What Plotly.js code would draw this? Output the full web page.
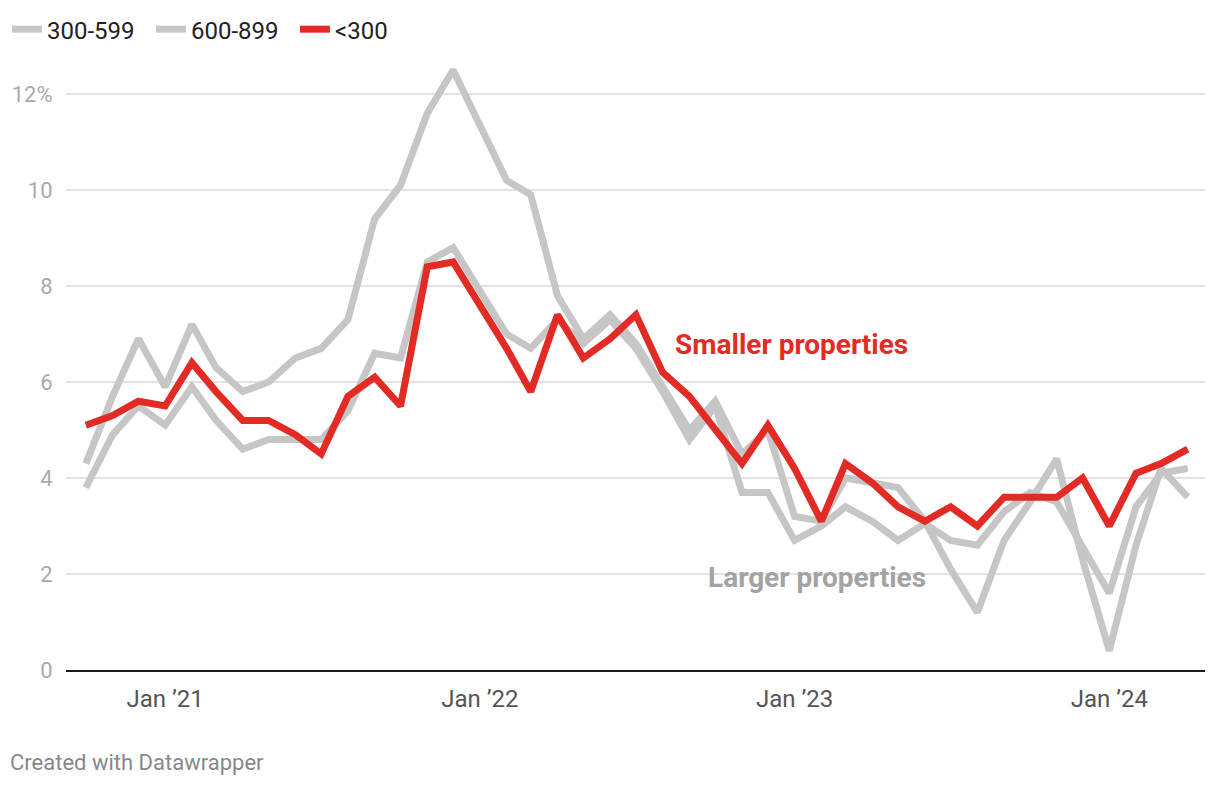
<!DOCTYPE html>
<html>
<head>
<meta charset="utf-8">
<script src="https://cdn.plot.ly/plotly-3.0.1.min.js"></script>
<style>
  html, body { margin: 0; padding: 0; background: #fff; }
  #chart { width: 1220px; height: 786px; }
</style>
</head>
<body>
<div id="chart"></div>
<script>
// Monthly observations, Oct 2020 – Apr 2024
const months = [
  "2020-10-01","2020-11-01","2020-12-01",
  "2021-01-01","2021-02-01","2021-03-01","2021-04-01","2021-05-01","2021-06-01",
  "2021-07-01","2021-08-01","2021-09-01","2021-10-01","2021-11-01","2021-12-01",
  "2022-01-01","2022-02-01","2022-03-01","2022-04-01","2022-05-01","2022-06-01",
  "2022-07-01","2022-08-01","2022-09-01","2022-10-01","2022-11-01","2022-12-01",
  "2023-01-01","2023-02-01","2023-03-01","2023-04-01","2023-05-01","2023-06-01",
  "2023-07-01","2023-08-01","2023-09-01","2023-10-01","2023-11-01","2023-12-01",
  "2024-01-01","2024-02-01","2024-03-01","2024-04-01"
];

const series300to599 = [
  4.3, 5.7, 6.9, 5.9, 7.2, 6.3, 5.8, 6.0, 6.5, 6.7, 7.3, 9.4, 10.1, 11.6, 12.5,
  11.35, 10.2, 9.9, 7.8, 6.9, 7.4, 6.8, 5.9, 5.0, 5.6, 4.5, 5.0, 3.2, 3.1, 4.0,
  3.9, 3.8, 3.1, 2.1, 1.2, 2.7, 3.5, 4.4, 2.3, 0.4, 2.6, 4.2, 3.6
];

const series600to899 = [
  3.8, 4.9, 5.5, 5.1, 5.9, 5.2, 4.6, 4.8, 4.8, 4.8, 5.4, 6.6, 6.5, 8.5, 8.8,
  7.9, 7.0, 6.7, 7.3, 6.8, 7.3, 6.7, 5.8, 4.8, 5.5, 3.7, 3.7, 2.7, 3.0, 3.4,
  3.1, 2.7, 3.05, 2.7, 2.6, 3.3, 3.7, 3.5, 2.6, 1.6, 3.4, 4.1, 4.2
];

const seriesUnder300 = [
  5.1, 5.3, 5.6, 5.5, 6.4, 5.8, 5.2, 5.2, 4.9, 4.5, 5.7, 6.1, 5.5, 8.4, 8.5,
  7.6, 6.7, 5.8, 7.4, 6.5, 6.9, 7.4, 6.2, 5.7, 5.0, 4.3, 5.1, 4.2, 3.1, 4.3,
  3.9, 3.4, 3.1, 3.4, 3.0, 3.6, 3.6, 3.6, 4.0, 3.0, 4.1, 4.3, 4.6
];

const seriesNames = ["300-599", "600-899", "<300"];

const xTickVals = ["2021-01-01", "2022-01-01", "2023-01-01", "2024-01-01"];
const xTickText = ["Jan \u201921", "Jan \u201922", "Jan \u201923", "Jan \u201924"];
const yTickVals = [0, 2, 4, 6, 8, 10, 12];
const yTickText = ["0", "2", "4", "6", "8", "10", "12%"];

const GRAY = "#c6c6c6";
const RED = "#e32b26";
const FONT = "Roboto, 'Noto Sans', sans-serif";

const traces = [
  { x: months, y: series300to599, name: seriesNames[0], type: "scatter", mode: "lines",
    line: { color: GRAY, width: 7, shape: "linear" }, hoverinfo: "skip" },
  { x: months, y: series600to899, name: seriesNames[1], type: "scatter", mode: "lines",
    line: { color: GRAY, width: 7, shape: "linear" }, hoverinfo: "skip" },
  { x: months, y: seriesUnder300, name: seriesNames[2], type: "scatter", mode: "lines",
    line: { color: RED, width: 7, shape: "linear" }, hoverinfo: "skip" }
];

const layout = {
  width: 1220,
  height: 786,
  paper_bgcolor: "#ffffff",
  plot_bgcolor: "#ffffff",
  font: { family: FONT, color: "#333" },
  margin: { l: 66, r: 15, t: 60, b: 116 },
  showlegend: true,
  legend: {
    orientation: "h",
    xref: "container", yref: "container",
    x: 0.0057, y: 0.991, xanchor: "left", yanchor: "top",
    font: { family: FONT, size: 24, color: "#222" },
    itemwidth: 30,
    entrywidth: 99,
    tracegroupgap: 0
  },
  xaxis: {
    type: "date",
    range: ["2020-09-08", "2024-04-21"],
    tickmode: "array",
    tickvals: xTickVals,
    ticktext: xTickText,
    showgrid: false,
    zeroline: false,
    showline: true,
    linecolor: "#1a1a1a",
    linewidth: 2,
    ticks: "outside",
    ticklen: 6,
    tickcolor: "rgba(0,0,0,0)",
    tickfont: { family: FONT, size: 24, color: "#555" },
    fixedrange: true
  },
  yaxis: {
    range: [0, 12.708],
    tickmode: "array",
    tickvals: yTickVals,
    ticktext: yTickText,
    showgrid: true,
    gridcolor: "#e3e3e3",
    gridwidth: 2,
    zeroline: false,
    showline: false,
    ticks: "outside",
    ticklen: 8,
    tickcolor: "rgba(0,0,0,0)",
    tickfont: { family: FONT, size: 22, color: "#aaaaaa" },
    fixedrange: true
  },
  annotations: [
    { x: "2022-08-13", y: 6.79, xref: "x", yref: "y", xanchor: "left", yanchor: "middle",
      text: "<b>Smaller properties</b>", showarrow: false,
      font: { family: FONT, size: 28, color: RED } },
    { x: "2022-09-20", y: 1.92, xref: "x", yref: "y", xanchor: "left", yanchor: "middle",
      text: "<b>Larger properties</b>", showarrow: false,
      font: { family: FONT, size: 28, color: "#a3a3a3" } },
    { x: -0.051, y: -0.151, xref: "paper", yref: "paper", xanchor: "left", yanchor: "middle",
      text: "Created with Datawrapper", showarrow: false,
      font: { family: FONT, size: 22, color: "#888888" } }
  ]
};

Plotly.newPlot("chart", traces, layout, { displayModeBar: false, staticPlot: true });
</script>
</body>
</html>
